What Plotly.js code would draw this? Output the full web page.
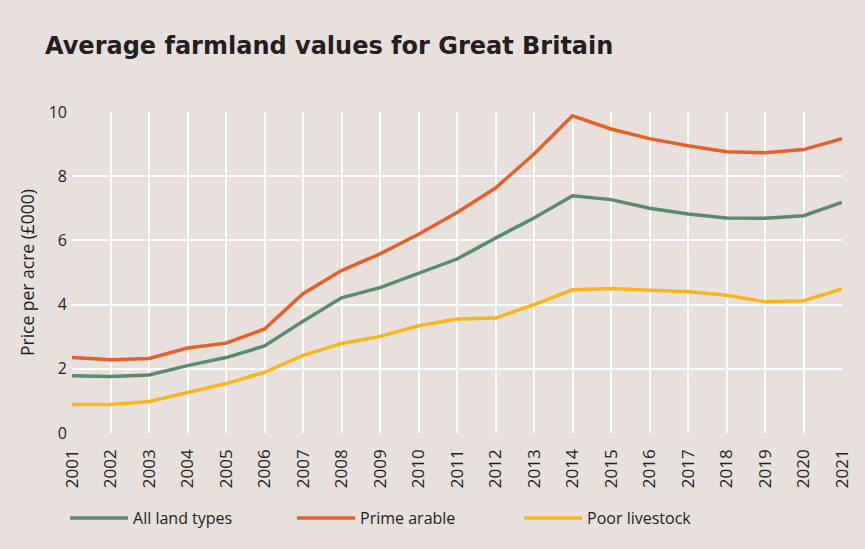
<!DOCTYPE html>
<html>
<head>
<meta charset="utf-8">
<script src="https://cdn.plot.ly/plotly-3.0.1.min.js"></script>
<style>html,body{margin:0;padding:0;background:#e7e0dc;}#chart{width:865px;height:549px;}</style>
</head>
<body>
<div id="chart"></div>
<script>
const years = ['2001','2002','2003','2004','2005','2006','2007','2008','2009','2010','2011','2012','2013','2014','2015','2016','2017','2018','2019','2020','2021'];
const allLand = [1.78,1.76,1.81,2.10,2.35,2.71,3.48,4.21,4.53,4.98,5.42,6.07,6.70,7.39,7.27,7.00,6.82,6.70,6.69,6.77,7.18];
const primeArable = [2.35,2.28,2.32,2.65,2.80,3.24,4.34,5.06,5.58,6.19,6.87,7.63,8.69,9.88,9.47,9.17,8.95,8.76,8.73,8.83,9.17];
const poorLivestock = [0.89,0.89,0.98,1.25,1.54,1.89,2.42,2.79,3.01,3.34,3.55,3.58,4.00,4.46,4.50,4.45,4.41,4.29,4.09,4.12,4.49];
const seriesNames = ['All land types','Prime arable','Poor livestock'];
const colors = ['#5b8b6f','#e4612a','#f9b51b'];

const font = "'Open Sans', sans-serif";
const traces = [allLand, primeArable, poorLivestock].map((v,i)=>({
  x: years, y: v, type:'scatter', mode:'lines', name: seriesNames[i],
  line:{color:colors[i], width:3.5}
}));

const layout = {
  width:865, height:549,
  paper_bgcolor:'#e7e0dc', plot_bgcolor:'#e7e0dc',
  margin:{l:72, r:23, t:112, b:116},
  title:{text:'<b>Average farmland values for Great Britain</b>', x:45/865, xanchor:'left', y:1-46/549, yanchor:'middle',
    font:{family:"'DejaVu Sans', sans-serif", size:24, color:'#231f20'}},
  xaxis:{type:'category', tickangle:-90, range:[0,20], showgrid:true, gridcolor:'#ffffff', gridwidth:1.5,
    zeroline:false, showline:false, ticks:'', ticklabelstandoff:12, tickfont:{family:font, size:17, color:'#231f20'}},
  yaxis:{range:[0,10], dtick:2, showgrid:true, gridcolor:'#ffffff', gridwidth:1.5, zeroline:false, showline:false,
    ticks:'', ticklabelstandoff:4, tickfont:{family:font, size:16, color:'#231f20'},
    title:{text:'Price per acre (£000)', font:{family:font, size:17.5, color:'#231f20'}, standoff:9}},
  showlegend:true,
  legend:{orientation:'h', x:-0.009, xanchor:'left', y:-0.265, yanchor:'middle', itemwidth:58,
    font:{family:font, size:16, color:'#231f20'}, bgcolor:'rgba(0,0,0,0)', traceorder:'normal', entrywidth:154},
};
Plotly.newPlot('chart', traces, layout, {displayModeBar:false});
</script>
</body>
</html>
